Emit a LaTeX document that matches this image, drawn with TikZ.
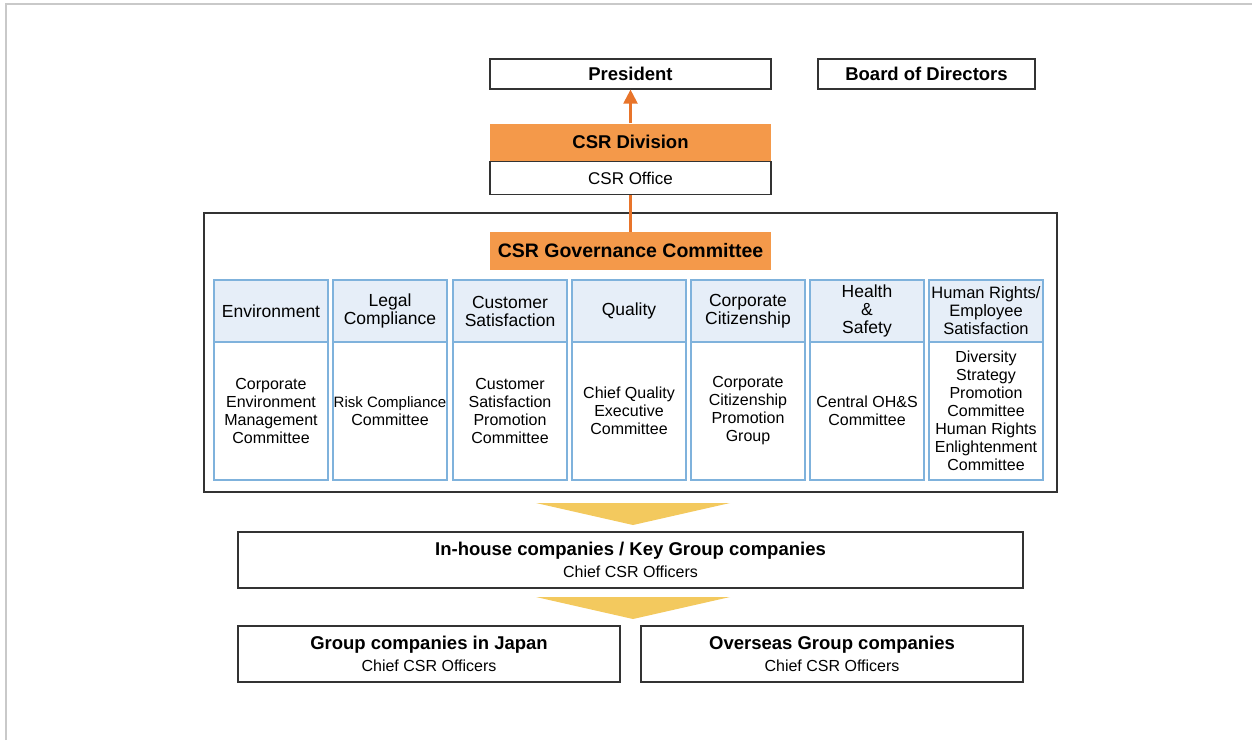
\documentclass[tikz,border=0pt]{standalone}
\usepackage{fontspec}
\setmainfont{Liberation Sans}
\usetikzlibrary{arrows.meta}
\definecolor{csrorange}{HTML}{F4994A}
\definecolor{arrorange}{HTML}{E8742A}
\definecolor{hdrfill}{HTML}{E6EEF8}
\definecolor{hdrline}{HTML}{7FB2DC}
\definecolor{tri}{HTML}{F3C95E}
\definecolor{frame}{HTML}{C9C9C9}
\definecolor{boxline}{HTML}{333333}
\tikzset{
  bx/.style={draw=boxline, line width=1.2pt, fill=white, inner sep=0pt, align=center},
  bold/.style={font=\fontsize{18.5}{20}\selectfont\bfseries},
  reg/.style={font=\fontsize{17}{19}\selectfont},
  orangebox/.style={fill=csrorange, inner sep=0pt, align=center, font=\fontsize{18.5}{20}\selectfont\bfseries},
  hdr/.style={draw=hdrline, line width=1.2pt, fill=hdrfill, minimum width=114pt, minimum height=62pt, inner sep=0pt, align=center, font=\fontsize{17.5}{18}\selectfont},
  bdy/.style={draw=hdrline, line width=1.2pt, fill=white, minimum width=114pt, minimum height=138pt, inner sep=0pt, align=center, font=\fontsize{16}{18}\selectfont},
  conn/.style={draw=arrorange, line width=2.2pt},
  tristyle/.style={fill=tri}
}
\begin{document}
\begin{tikzpicture}[x=1pt,y=-1pt]
\useasboundingbox (0,0) rectangle (1252,740);
\draw[frame, line width=2pt] (6,740) -- (6,4) -- (1252,4);

% top
\node[bx, bold, minimum width=281pt, minimum height=30pt] (pres) at (630.5,74) {President};
\node[bx, bold, minimum width=217pt, minimum height=30pt] (board) at (926.5,74) {Board of Directors};
\node[orangebox, minimum width=281pt, minimum height=37pt] (div) at (630.5,142) {CSR Division};
\node[bx, reg, minimum width=281pt, minimum height=33pt] (office) at (630.5,178) {CSR Office};

% outer frame
\node[draw=boxline, line width=1.5pt, minimum width=853pt, minimum height=279pt, inner sep=0pt] (outer) at (630.5,352.5) {};
\node[orangebox, minimum width=281pt, minimum height=38pt, font=\fontsize{19.5}{21}\selectfont\bfseries] (gov) at (630.5,251) {CSR Governance Committee};

\draw[conn, -{Triangle[length=14pt,width=14pt]}] (div.north) -- (pres.south);
\draw[conn] (office.south) -- (gov.north);

% columns
\node[hdr] (h1) at (271,311) {Environment};
\node[hdr] (h2) at (390,311) {Legal\\Compliance};
\node[hdr] (h3) at (510,311) {Customer\\Satisfaction};
\node[hdr] (h4) at (629,311) {Quality};
\node[hdr] (h5) at (748,311) {Corporate\\Citizenship};
\node[hdr] (h6) at (867,311) {Health\\\&\\Safety};
\node[hdr, font=\fontsize{16.5}{18}\selectfont] (h7) at (986,311) {Human Rights/\\Employee\\Satisfaction};

\node[bdy] (b1) at (271,411) {Corporate\\Environment\\Management\\Committee};
\node[bdy] (b2) at (390,411) {\fontsize{15}{18}\selectfont Risk Compliance\\Committee};
\node[bdy] (b3) at (510,411) {Customer\\Satisfaction\\Promotion\\Committee};
\node[bdy] (b4) at (629,411) {Chief Quality\\Executive\\Committee};
\node[bdy] (b5) at (748,411) {Corporate\\Citizenship\\Promotion\\Group};
\node[bdy] (b6) at (867,411) {Central OH\&S\\Committee};
\node[bdy] (b7) at (986,411) {Diversity\\Strategy\\Promotion\\Committee\\Human Rights\\Enlightenment\\Committee};

% yellow arrows
\fill[tristyle] (536,503) -- (730,503) -- (633,525) -- cycle;
\fill[tristyle] (536,597) -- (730,597) -- (633,619) -- cycle;

% companies
\node[bx, minimum width=785pt, minimum height=56pt] (inh) at (630.5,560) {\fontsize{18.5}{20}\selectfont\bfseries In-house companies / Key Group companies\\[6pt]\fontsize{16}{18}\selectfont Chief CSR Officers};
\node[bx, minimum width=382pt, minimum height=56pt] (jp) at (429,654) {\fontsize{18.5}{20}\selectfont\bfseries Group companies in Japan\\[6pt]\fontsize{16}{18}\selectfont Chief CSR Officers};
\node[bx, minimum width=382pt, minimum height=56pt] (ov) at (832,654) {\fontsize{18.5}{20}\selectfont\bfseries Overseas Group companies\\[6pt]\fontsize{16}{18}\selectfont Chief CSR Officers};
\end{tikzpicture}
\end{document}
